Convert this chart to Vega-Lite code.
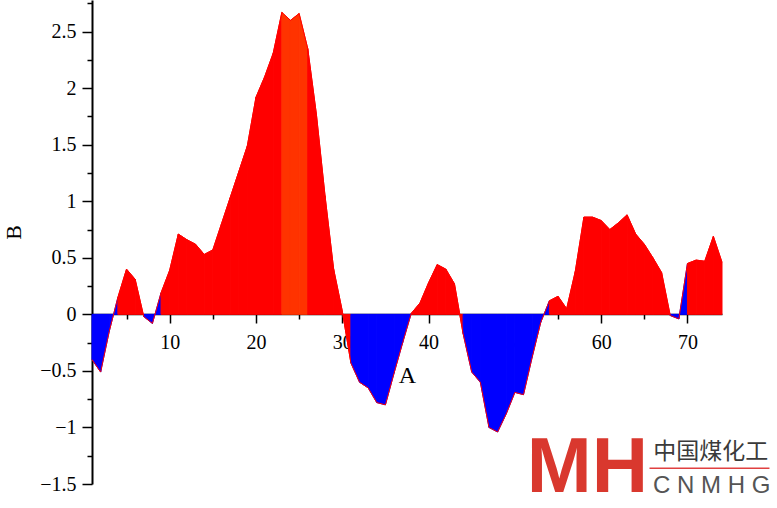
{
  "$schema": "https://vega.github.io/schema/vega-lite/v6.json",
  "autosize": {"type": "none"},
  "padding": {"left": 92, "top": 0, "right": 55, "bottom": 24},
  "width": 630,
  "height": 484,
  "config": {
    "view": {"stroke": null},
    "font": "Liberation Serif",
    "axis": {"grid": false, "domainColor": "#000000", "tickColor": "#000000", "labelColor": "#000000", "titleColor": "#000000", "labelFont": "Liberation Serif", "titleFont": "Liberation Serif", "titleFontWeight": "normal", "zindex": 1}
  },
  "data": {"values": [
    {"x":1,"y":-0.40},{"x":2,"y":-0.51},{"x":3,"y":-0.15},{"x":4,"y":0.15},{"x":5,"y":0.40},
    {"x":6,"y":0.31},{"x":7,"y":-0.02},{"x":8,"y":-0.08},{"x":9,"y":0.19},{"x":10,"y":0.39},
    {"x":11,"y":0.71},{"x":12,"y":0.66},{"x":13,"y":0.62},{"x":14,"y":0.53},{"x":15,"y":0.57},
    {"x":16,"y":0.80},{"x":17,"y":1.03},{"x":18,"y":1.26},{"x":19,"y":1.49},{"x":20,"y":1.92},
    {"x":21,"y":2.10},{"x":22,"y":2.31},{"x":23,"y":2.67},{"x":24,"y":2.60},{"x":25,"y":2.66},
    {"x":26,"y":2.35},{"x":27,"y":1.77},{"x":28,"y":1.05},{"x":29,"y":0.40},{"x":30,"y":0.03},
    {"x":31,"y":-0.43},{"x":32,"y":-0.60},{"x":33,"y":-0.65},{"x":34,"y":-0.78},{"x":35,"y":-0.80},
    {"x":36,"y":-0.52},{"x":37,"y":-0.25},{"x":38,"y":0.01},{"x":39,"y":0.10},{"x":40,"y":0.28},
    {"x":41,"y":0.44},{"x":42,"y":0.40},{"x":43,"y":0.27},{"x":44,"y":-0.17},{"x":45,"y":-0.51},
    {"x":46,"y":-0.60},{"x":47,"y":-1.00},{"x":48,"y":-1.04},{"x":49,"y":-0.88},{"x":50,"y":-0.69},
    {"x":51,"y":-0.71},{"x":52,"y":-0.38},{"x":53,"y":-0.07},{"x":54,"y":0.12},{"x":55,"y":0.16},
    {"x":56,"y":0.05},{"x":57,"y":0.38},{"x":58,"y":0.86},{"x":59,"y":0.86},{"x":60,"y":0.83},
    {"x":61,"y":0.75},{"x":62,"y":0.81},{"x":63,"y":0.88},{"x":64,"y":0.71},{"x":65,"y":0.62},
    {"x":66,"y":0.50},{"x":67,"y":0.37},{"x":68,"y":-0.01},{"x":69,"y":-0.04},{"x":70,"y":0.45},
    {"x":71,"y":0.48},{"x":72,"y":0.47},{"x":73,"y":0.69},{"x":74,"y":0.46}
  ]},
  "resolve": {"axis": {"x": "independent", "y": "independent"}},
  "layer": [
    {
      "transform": [
        {"window": [{"op": "lead", "field": "x", "as": "xn"}, {"op": "lead", "field": "y", "as": "yn"}], "sort": [{"field": "x"}]},
        {"filter": "datum.xn != null"},
        {"calculate": "datum.x >= 23 && datum.x < 26 ? 'h' : (datum.y >= 0 ? 'p' : 'n')", "as": "grp"},
        {"fold": ["x", "xn"], "as": ["k", "xx"]},
        {"calculate": "datum.k == 'x' ? datum.y : datum.yn", "as": "yy"}
      ],
      "mark": {"type": "area", "strokeWidth": 1, "opacity": 1, "fillOpacity": 1, "strokeOpacity": 1, "strokeJoin": "miter"},
      "encoding": {
        "x": {"field": "xx", "type": "quantitative", "scale": {"domain": [1, 74], "nice": false, "zero": false},
              "axis": {"orient": "bottom", "offset": -170, "values": [10, 20, 30, 40, 50, 60, 70], "tickSize": 9, "tickWidth": 1.5, "domainWidth": 1.5, "labelFontSize": 20, "labelPadding": 9, "title": "A", "titleFontSize": 24, "titlePadding": 11}},
        "y": {"field": "yy", "type": "quantitative", "scale": {"domain": [-1.5, 2.78], "nice": false, "zero": false},
              "axis": {"orient": "left", "values": [-1.5, -1, -0.5, 0, 0.5, 1, 1.5, 2, 2.5], "format": "~g", "tickSize": 10, "tickWidth": 1.5, "domainWidth": 2, "labelFontSize": 20, "labelPadding": 6, "title": "B", "titleFontSize": 22, "titlePadding": 14, "titleY": 232}},
        "y2": {"datum": 0},
        "detail": {"field": "x", "type": "quantitative"},
        "fill": {"field": "grp", "type": "nominal", "scale": {"domain": ["p", "n", "h"], "range": ["#ff0000", "#0000ff", "#ff3300"]}, "legend": null},
        "stroke": {"field": "grp", "type": "nominal", "scale": {"domain": ["p", "n", "h"], "range": ["#ff0000", "#0000ff", "#ff3300"]}, "legend": null}
      }
    },
    {
      "mark": {"type": "line", "color": "#ff0000", "strokeWidth": 1},
      "encoding": {
        "x": {"field": "x", "type": "quantitative", "scale": {"domain": [1, 74], "nice": false, "zero": false},
              "axis": {"orient": "bottom", "offset": -170, "values": [5, 15, 25, 35, 45, 55, 65], "tickSize": 5, "tickWidth": 1.5, "domain": false, "labels": false, "title": null}},
        "y": {"field": "y", "type": "quantitative", "scale": {"domain": [-1.5, 2.78], "nice": false, "zero": false},
              "axis": {"orient": "left", "values": [-1.25, -0.75, -0.25, 0.25, 0.75, 1.25, 1.75, 2.25, 2.75], "tickSize": 5, "tickWidth": 1.5, "domain": false, "labels": false, "title": null}}
      }
    },
    {
      "data": {"values": [{}]},
      "mark": {"type": "text", "text": "MH", "font": "Liberation Sans", "fontWeight": "bold", "fontSize": 78, "color": "#d9382e", "align": "center", "baseline": "middle"},
      "encoding": {"x": {"datum": 58.4, "type": "quantitative", "axis": null}, "y": {"datum": -1.37, "type": "quantitative", "axis": null}}
    },
    {
      "data": {"values": [{}]},
      "mark": {"type": "text", "text": "中国煤化工", "font": "Noto Sans CJK SC", "fontSize": 23, "color": "#3a3a3a", "align": "center", "baseline": "middle"},
      "encoding": {"x": {"datum": 72.7, "type": "quantitative", "axis": null}, "y": {"datum": -1.22, "type": "quantitative", "axis": null}}
    },
    {
      "data": {"values": [{}]},
      "mark": {"type": "rule", "color": "#e04040", "strokeWidth": 1.5},
      "encoding": {"x": {"datum": 65.6, "type": "quantitative", "axis": null}, "x2": {"datum": 79.5}, "y": {"datum": -1.36, "type": "quantitative", "axis": null}}
    },
    {
      "data": {"values": [{}]},
      "mark": {"type": "text", "text": "C N M H G", "font": "Liberation Sans", "fontSize": 24, "color": "#555555", "align": "center", "baseline": "middle"},
      "encoding": {"x": {"datum": 72.8, "type": "quantitative", "axis": null}, "y": {"datum": -1.52, "type": "quantitative", "axis": null}}
    }
  ]
}
